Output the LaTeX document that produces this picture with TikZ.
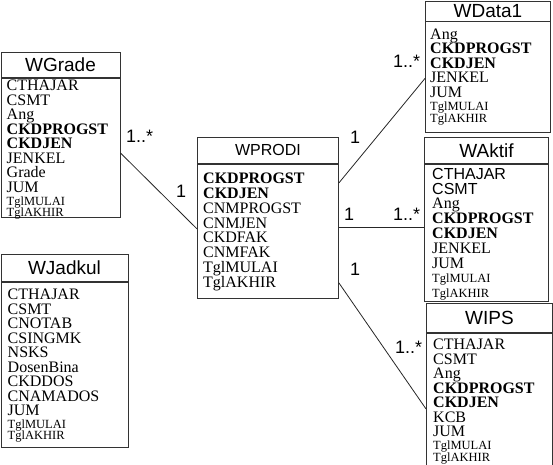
\documentclass[tikz,border=0pt]{standalone}
\usepackage{fontspec}
\setmainfont{Liberation Serif}
\setsansfont{Liberation Sans}
\newcommand{\kcl}[1]{{\fontsize{12.5}{14.5}\selectfont #1}}
\begin{document}
\begin{tikzpicture}[x=1pt, y=-1pt,
  judul/.style={draw=black!80, line width=0.9pt, anchor=north west, inner sep=0pt, font=\sffamily\fontsize{19}{19}\selectfont},
  isi/.style={draw=black!80, line width=0.9pt, anchor=north west, inner sep=0pt},
  teks/.style={anchor=north west, inner sep=0pt, align=left, text width=120pt, font=\fontsize{16}{14.5}\selectfont},
  garis/.style={draw=black!85, line width=0.8pt},
  kard/.style={anchor=base west, inner sep=0pt, font=\sffamily\fontsize{18}{18}\selectfont}]
  \useasboundingbox (0,0) rectangle (553,464);

  % WGrade (kiri atas)
  \node[judul, minimum width=119pt, minimum height=25pt] (gradeH) at (0.5,52) {WGrade};
  \node[isi, minimum width=119pt, minimum height=139pt] (grade) at (gradeH.south west) {};
  \node[teks] (gradeT) at ([xshift=6pt, yshift=-2pt]grade.north west)
    {CTHAJAR\\CSMT\\Ang\\\textbf{CKDPROGST}\\\textbf{CKDJEN}\\JENKEL\\Grade\\JUM\\[-1.5pt]\kcl{TglMULAI}\\[-3pt]\kcl{TglAKHIR}};

  % WJadkul (kiri bawah)
  \node[judul, minimum width=127pt, minimum height=27pt] (jadkulH) at (0.5,254) {WJadkul};
  \node[isi, minimum width=127pt, minimum height=165pt] (jadkul) at (jadkulH.south west) {};
  \node[teks] (jadkulT) at ([xshift=7pt, yshift=-7pt]jadkul.north west)
    {CTHAJAR\\CSMT\\CNOTAB\\CSINGMK\\NSKS\\DosenBina\\CKDDOS\\CNAMADOS\\JUM\\[-2pt]\kcl{TglMULAI}\\[-3pt]\kcl{TglAKHIR}};

  % WPRODI (tengah)
  \node[judul, minimum width=141pt, minimum height=26pt, font=\sffamily\fontsize{16}{16}\selectfont] (prodiH) at (197,137) {WPRODI};
  \node[isi, minimum width=141pt, minimum height=134pt] (prodi) at (prodiH.south west) {};
  \node[teks, font=\fontsize{16}{14.8}\selectfont] (prodiT) at ([xshift=6pt, yshift=-9pt]prodi.north west)
    {\textbf{CKDPROGST}\\\textbf{CKDJEN}\\CNMPROGST\\CNMJEN\\CKDFAK\\CNMFAK\\TglMULAI\\TglAKHIR};

  % WData1 (kanan atas)
  \node[judul, minimum width=125pt, minimum height=20pt] (data1H) at (425,0.5) {WData1};
  \node[isi, minimum width=125pt, minimum height=111pt] (data1) at (data1H.south west) {};
  \node[teks] (data1T) at ([xshift=5pt, yshift=-7pt]data1.north west)
    {Ang\\\textbf{CKDPROGST}\\\textbf{CKDJEN}\\JENKEL\\JUM\\[-1pt]\kcl{TglMULAI}\\[-3pt]\kcl{TglAKHIR}};

  % WAktif (kanan tengah)
  \node[judul, minimum width=124pt, minimum height=26pt] (aktifH) at (424,137) {WAktif};
  \node[isi, minimum width=124pt, minimum height=137pt] (aktif) at (aktifH.south west) {};
  \node[teks, font=\fontsize{16}{14.8}\selectfont] (aktifT) at ([xshift=8pt, yshift=-4pt]aktif.north west)
    {\textsf{CTHAJAR}\\\textsf{CSMT}\\Ang\\\textbf{CKDPROGST}\\\textbf{CKDJEN}\\JENKEL\\JUM\\\kcl{TglMULAI}\\\kcl{TglAKHIR}};

  % WIPS (kanan bawah)
  \node[judul, minimum width=126pt, minimum height=29pt] (ipsH) at (426,303) {WIPS};
  \node[isi, minimum width=126pt, minimum height=140pt] (ips) at (ipsH.south west) {};
  \node[teks] (ipsT) at ([xshift=7pt, yshift=-6pt]ips.north west)
    {CTHAJAR\\CSMT\\Ang\\\textbf{CKDPROGST}\\\textbf{CKDJEN}\\KCB\\JUM\\[-1.5pt]\kcl{TglMULAI}\\[-3pt]\kcl{TglAKHIR}};

  % Relasi
  \draw[garis] ([yshift=-75pt]grade.north east) -- ([yshift=-65pt]prodi.north west);
  \draw[garis] ([yshift=-19pt]prodi.north east) -- ([yshift=-57pt]data1.north west);
  \draw[garis] ([yshift=-63pt]prodi.north east) -- ([yshift=-63pt]aktif.north west);
  \draw[garis] ([yshift=-119pt]prodi.north east) -- ([yshift=-76pt]ips.north west);

  % Kardinalitas
  \node[kard] (k1) at (126,142) {1..*};
  \node[kard] (k2) at (176,197) {1};
  \node[kard] (k3) at (350,143) {1};
  \node[kard] (k4) at (393,67) {1..*};
  \node[kard] (k5) at (344,220) {1};
  \node[kard] (k6) at (393,220) {1..*};
  \node[kard] (k7) at (350,275) {1};
  \node[kard] (k8) at (395,353) {1..*};
\end{tikzpicture}
\end{document}
